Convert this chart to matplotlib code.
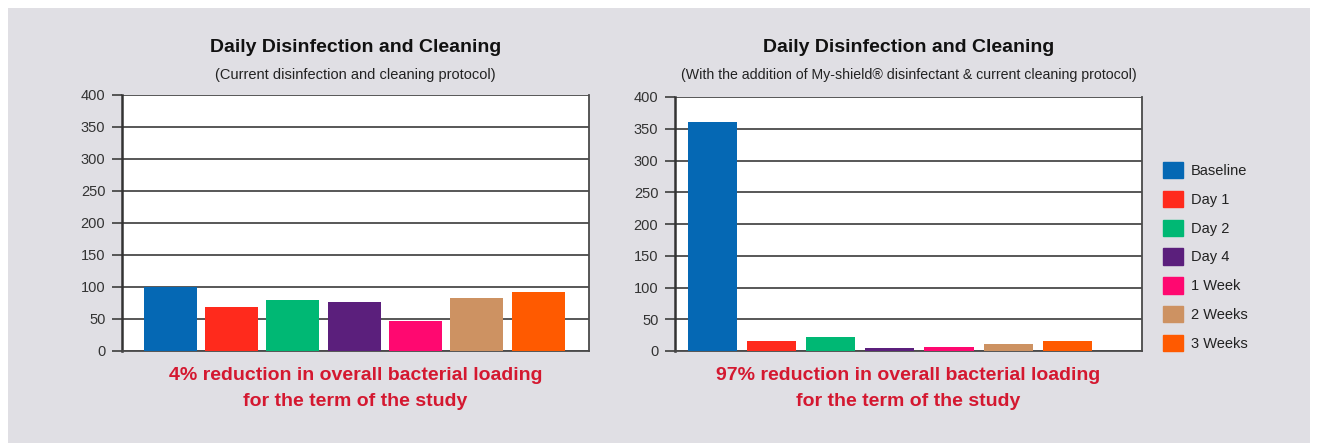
import matplotlib
matplotlib.use("Agg")
import matplotlib.pyplot as plt
from matplotlib.patches import Rectangle
import numpy as np

# -------------------------
# data
# -------------------------
periods = ["Baseline", "Day 1", "Day 2", "Day 4", "1 Week", "2 Weeks", "3 Weeks"]
colors = ["#0568b4", "#ff2a1c", "#00b874", "#5b1f7c", "#ff0870", "#cd9262", "#ff5a00"]
current_protocol = [100, 68, 79, 77, 47, 83, 92]
myshield_protocol = [361, 16, 22, 4, 7, 11, 16]
yticks = [0, 50, 100, 150, 200, 250, 300, 350, 400]

title = "Daily Disinfection and Cleaning"
sub_left = "(Current disinfection and cleaning protocol)"
sub_right = "(With the addition of My-shield\u00ae disinfectant & current cleaning protocol)"
note_left = ["4% reduction in overall bacterial loading", "for the term of the study"]
note_right = ["97% reduction in overall bacterial loading", "for the term of the study"]

plt.rcParams['font.family'] = ['Liberation Sans Narrow', 'Liberation Sans', 'DejaVu Sans']

W, H = 1317, 443
fig = plt.figure(figsize=(W / 100, H / 100), dpi=100)
fig.patch.set_facecolor("white")
fig.patches.append(Rectangle((8 / W, 0), (1310 - 8) / W, 1 - 8 / H,
                             transform=fig.transFigure, facecolor="#e0dfe4",
                             edgecolor="none", zorder=-10))

grid_c = "#4a4a4a"
tick_c = "#333333"


def draw_panel(rect, values, width, xlim, sub, sub_size, note):
    ax = fig.add_axes(rect)
    ax.set_facecolor("white")
    x = np.arange(len(values))
    ax.bar(x, values, width=width, color=colors, zorder=3)
    ax.set_ylim(0, 400)
    ax.set_xlim(*xlim)
    ax.set_yticks(yticks)
    ax.set_yticklabels([str(t) for t in yticks], fontsize=10.5, color=tick_c)
    ax.set_xticks([])
    ax.yaxis.grid(True, color=grid_c, lw=1.3, zorder=1)
    ax.tick_params(axis="y", length=7, width=1.3, color=grid_c, pad=5)
    for s in ["left", "right", "bottom", "top"]:
        ax.spines[s].set_color(grid_c)
        ax.spines[s].set_linewidth(1.3)
    ax.spines["left"].set_linewidth(1.8)
    ax.spines["left"].set_color("#333333")
    ax.spines["top"].set_visible(False)
    cx = rect[0] + rect[2] / 2
    fig.text(cx, 1 - 48 / H, title, ha="center", va="center",
             fontsize=14, fontweight="bold", color="#111111")
    fig.text(cx, 1 - 75 / H, sub, ha="center", va="center",
             fontsize=sub_size, color="#222222")
    for line, ypx in zip(note, [376, 401]):
        fig.text(cx, 1 - ypx / H, line, ha="center", va="center",
                 fontsize=14, fontweight="bold", color="#d41830")
    return ax


draw_panel([122 / W, 92 / H, 467 / W, 256 / H], current_protocol, 0.865,
           (-0.79, 6.83), sub_left, 10.5, note_left)
draw_panel([675 / W, 92 / H, 467 / W, 254 / H], myshield_protocol, 0.83,
           (-0.63, 7.26), sub_right, 10.2, note_right)

# legend
handles = [Rectangle((0, 0), 1, 1, color=c) for c in colors]
fig.legend(handles, periods, loc="upper left", bbox_to_anchor=(1150 / W, 1 - 149 / H),
           frameon=False, fontsize=10.5, handlelength=1.35, handleheight=1.35,
           labelspacing=0.85, handletextpad=0.55, labelcolor="#222222")

fig.savefig("out.png", dpi=100, facecolor="white")
